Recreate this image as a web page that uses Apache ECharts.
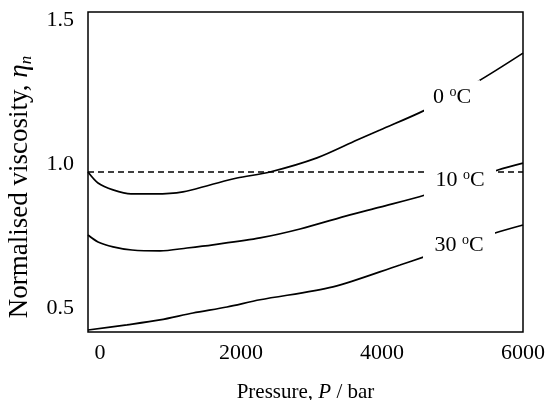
<!DOCTYPE html>
<html lang="en">
<head>
<meta charset="UTF-8">
<title>Normalised viscosity vs pressure</title>
<style>
    html, body { margin: 0; padding: 0; background: #fff; }
    #chart { width: 551px; height: 400px; }
</style>
</head>
<body>

<div id="chart"></div>

<script src="https://cdn.jsdelivr.net/npm/echarts@6.0.0/dist/echarts.min.js"></script>
<script>
    // pressure (bar) and normalised viscosity
    const p0 = [-170, -28, 185, 440, 780, 1177, 1560, 1943, 2411, 3078, 3646, 3972, 4610, 5348, 6000];
    const eta0 = [1.0, 0.962, 0.938, 0.924, 0.924, 0.931, 0.955, 0.979, 1.0, 1.049, 1.111, 1.146, 1.215, 1.313, 1.413];

    const p10 = [-170, -28, 185, 454, 851, 1234, 1603, 2270, 2837, 3546, 3972, 4610, 5645, 6000];
    const eta10 = [0.781, 0.757, 0.740, 0.729, 0.726, 0.736, 0.747, 0.771, 0.802, 0.851, 0.878, 0.920, 1.007, 1.031];

    const p30 = [-170, 383, 851, 1319, 1801, 2270, 3305, 4255, 4596, 5603, 6000];
    const eta30 = [0.451, 0.469, 0.486, 0.510, 0.531, 0.556, 0.601, 0.677, 0.705, 0.788, 0.816];

    const refP = [-170, 6000];
    const refEta = [1.0, 1.0];

    const labelText = ["0", "10", "30"];
    const labelP = [4993, 5064, 5064];
    const labelEta = [1.26, 1.0, 0.774];

    const xTicks = [0, 2000, 4000, 6000];
    const yTicks = [0.5, 1.0, 1.5];

    const zip = (xs, ys) => xs.map((x, i) => [x, ys[i]]);

    const font = "Liberation Serif";
    const curve = (name, xs, ys) => ({
        name: name,
        type: "line",
        data: zip(xs, ys),
        symbol: "none",
        smooth: 0.3,
        lineStyle: { color: "#000", width: 1.7 },
        z: 2
    });

    // white boxes behind the labels hide the lines, as in the figure
    const boxSize = [[56, 34], [72, 36], [72, 32]];
    const boxOffset = [[0, 0], [3, 8], [2, 8]];

    const myChart = echarts.init(document.getElementById("chart"));

    const option = {
        animation: false,
        grid: {
            left: 88, right: 28, top: 12, bottom: 68,
            outerBoundsMode: "none",
            show: true, borderColor: "#000", borderWidth: 1.5, backgroundColor: "transparent"
        },
        xAxis: {
            type: "value",
            min: -170,
            max: 6000,
            name: "Pressure, {i|P} / bar",
            nameLocation: "middle",
            nameGap: 50,
            nameTextStyle: {
                fontFamily: font, fontSize: 21, color: "#000",
                rich: { i: { fontFamily: font, fontSize: 21, fontStyle: "italic", color: "#000" } }
            },
            axisLine: { show: false },
            axisTick: { show: false },
            splitLine: { show: false },
            axisLabel: {
                customValues: xTicks,
                formatter: (v) => String(v),
                margin: 10,
                fontFamily: font, fontSize: 22, color: "#000"
            }
        },
        yAxis: {
            type: "value",
            min: 0.444,
            max: 1.556,
            name: "Normalised viscosity, {i|η}{sub|n}",
            nameLocation: "middle",
            nameGap: 53,
            nameTextStyle: {
                fontFamily: font, fontSize: 27, color: "#000",
                padding: [0, 30, 0, 0],
                rich: {
                    i: { fontFamily: font, fontSize: 27, fontStyle: "italic", color: "#000" },
                    sub: { fontFamily: font, fontSize: 17, fontStyle: "italic", color: "#000", padding: [13, 0, 0, 0] }
                }
            },
            axisLine: { show: false },
            axisTick: { show: false },
            splitLine: { show: false },
            axisLabel: {
                customValues: yTicks,
                formatter: (v) => v.toFixed(1),
                margin: 14,
                verticalAlign: "bottom",
                lineHeight: 15,
                fontFamily: font, fontSize: 22, color: "#000"
            }
        },
        series: [
            curve("0 °C", p0, eta0),
            curve("10 °C", p10, eta10),
            curve("30 °C", p30, eta30),
            {
                name: "reference",
                type: "line",
                data: zip(refP, refEta),
                symbol: "none",
                lineStyle: { color: "#000", width: 1.5, type: [6, 4] },
                z: 2
            },
            {
                name: "labels",
                type: "scatter",
                z: 5,
                data: labelP.map((p, i) => ({
                    value: [p, labelEta[i]],
                    symbolSize: boxSize[i],
                    symbolOffset: boxOffset[i],
                    label: {
                        show: true,
                        position: "inside",
                        formatter: labelText[i] + " {sup|o}C"
                    }
                })),
                symbol: "rect",
                itemStyle: { color: "#fff", opacity: 1 },
                label: {
                    color: "#000",
                    fontFamily: font,
                    fontSize: 22,
                    rich: {
                        sup: { fontFamily: font, fontSize: 14, color: "#000", padding: [0, 0, 10, 0] }
                    }
                },
                emphasis: { disabled: true },
                silent: true
            }
        ]
    };

    myChart.setOption(option);
</script>

</body>
</html>
